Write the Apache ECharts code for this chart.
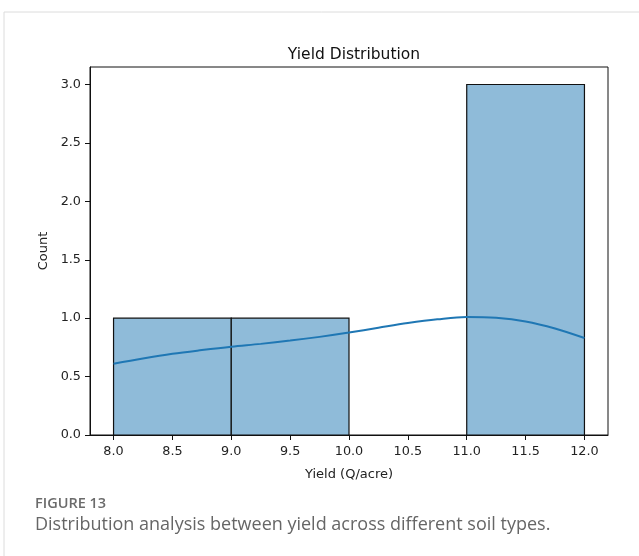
<!DOCTYPE html>
<html>
<head>
<meta charset="utf-8">
<script src="https://cdn.jsdelivr.net/npm/echarts@6/dist/echarts.min.js"></script>
<style>
  html, body { margin: 0; padding: 0; background: #fff; }
  #chart { width: 639px; height: 556px; }
</style>
</head>
<body>
<div id="chart"></div>
<script>
// histogram bins (edges) and counts
var binEdges = [8, 9, 10, 11, 12];
var binCounts = [1, 1, 0, 3];
// kde curve
var kdeX = [8.0, 8.25, 8.5, 8.75, 9.0, 9.25, 9.5, 9.75, 10.0, 10.25, 10.5, 10.75, 11.0, 11.25, 11.5, 11.75, 12.0];
var kdeY = [0.61, 0.655, 0.695, 0.727, 0.756, 0.78, 0.808, 0.84, 0.877, 0.918, 0.958, 0.99, 1.01, 1.003, 0.972, 0.912, 0.83];
// tick labels
var xTicks = [8, 8.5, 9, 9.5, 10, 10.5, 11, 11.5, 12];
var yTicks = [0, 0.5, 1, 1.5, 2, 2.5, 3];

var bars = [];
for (var i = 0; i < binCounts.length; i++) {
    if (binCounts[i] > 0) bars.push([binEdges[i], binEdges[i + 1], binCounts[i]]);
}
var kde = kdeX.map(function (x, i) { return [x, kdeY[i]]; });

var chart = echarts.init(document.getElementById('chart'));
var tickFont = { fontFamily: 'DejaVu Sans', fontSize: 12.8, color: '#222' };
var option = {
    backgroundColor: '#fff',
    animation: false,
    title: {
        text: 'Yield Distribution',
        left: 349, top: 42, textAlign: 'center',
        textStyle: { fontFamily: 'DejaVu Sans', fontSize: 15.5, fontWeight: 'normal', color: '#111' }
    },
    grid: {
        left: 90, right: 31, top: 67, bottom: 121,
        show: true, borderColor: '#111', borderWidth: 1
    },
    xAxis: {
        type: 'value', min: 7.8, max: 12.2,
        name: 'Yield (Q/acre)', nameLocation: 'middle', nameGap: 33,
        nameTextStyle: { fontFamily: 'DejaVu Sans', fontSize: 13, color: '#222' },
        axisLine: { show: true, lineStyle: { color: '#111', width: 1 } },
        axisTick: { show: true, length: 5, lineStyle: { color: '#111' }, customValues: xTicks },
        axisLabel: Object.assign({ margin: 10, customValues: xTicks, formatter: function (v) { return v.toFixed(1); } }, tickFont),
        splitLine: { show: false }
    },
    yAxis: {
        type: 'value', min: 0, max: 3.15,
        name: 'Count', nameLocation: 'middle', nameGap: 37, nameRotate: 90,
        nameTextStyle: { fontFamily: 'DejaVu Sans', fontSize: 13, color: '#222' },
        axisLine: { show: true, lineStyle: { color: '#111', width: 1 } },
        axisTick: { show: true, length: 5, lineStyle: { color: '#111' }, customValues: yTicks },
        axisLabel: Object.assign({ margin: 9, customValues: yTicks, formatter: function (v) { return v.toFixed(1); } }, tickFont),
        splitLine: { show: false }
    },
    series: [
        {
            type: 'custom',
            data: bars,
            encode: { x: [0, 1], y: 2 },
            renderItem: function (params, api) {
                var p0 = api.coord([api.value(0), api.value(2)]);
                var p1 = api.coord([api.value(1), 0]);
                return {
                    type: 'rect',
                    shape: { x: p0[0], y: p0[1], width: p1[0] - p0[0], height: p1[1] - p0[1] },
                    style: { fill: '#8fbbd9', stroke: '#111', lineWidth: 1.2 }
                };
            }
        },
        {
            type: 'line',
            data: kde,
            smooth: 0.35,
            symbol: 'none',
            lineStyle: { color: '#1f77b4', width: 2 },
            z: 5
        }
    ],
    graphic: [
        { type: 'line', shape: { x1: 4, y1: 12, x2: 639, y2: 12 }, style: { stroke: '#dcdcdc', lineWidth: 1 } },
        { type: 'line', shape: { x1: 4, y1: 12, x2: 4, y2: 556 }, style: { stroke: '#dcdcdc', lineWidth: 1 } },
        { type: 'text', left: 35, top: 496, style: { text: 'FIGURE 13', fontFamily: 'Open Sans', fontSize: 14.5, fontWeight: 600, fill: '#6b6b6b' } },
        { type: 'text', left: 35, top: 516, style: { text: 'Distribution analysis between yield across different soil types.', fontFamily: 'Open Sans', fontSize: 18, fill: '#666' } }
    ]
};
chart.setOption(option);
</script>
</body>
</html>
